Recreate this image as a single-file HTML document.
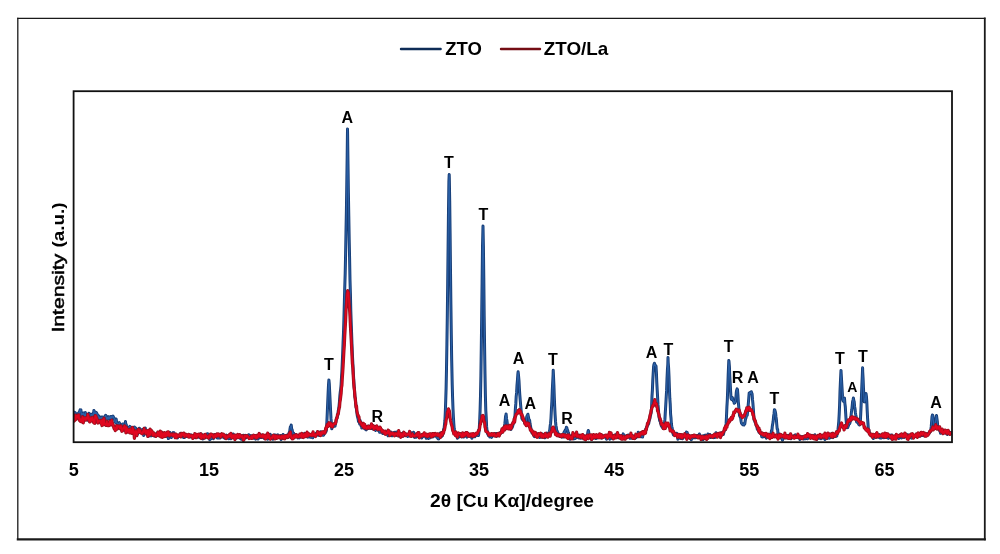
<!DOCTYPE html>
<html><head><meta charset="utf-8"><title>XRD</title>
<style>
html,body{margin:0;padding:0;background:#fff;}
body{width:1000px;height:554px;overflow:hidden;font-family:"Liberation Sans",sans-serif;}
svg{display:block;will-change:transform;filter:blur(0.4px);}
text{font-family:"Liberation Sans",sans-serif;font-weight:bold;fill:#000;}
</style></head><body>
<svg width="1000" height="554" viewBox="0 0 1000 554">
<rect x="0" y="0" width="1000" height="554" fill="#fff"/>
<!-- outer frame -->
<g stroke="#1a1a1a" fill="none" stroke-linecap="square">
<line x1="17.8" y1="18.4" x2="984.8" y2="18.4" stroke-width="1.3"/>
<line x1="17.8" y1="18.4" x2="17.8" y2="539.4" stroke-width="1.3"/>
<line x1="984.8" y1="18.4" x2="984.8" y2="539.4" stroke-width="1.8"/>
<line x1="17.8" y1="539.4" x2="984.8" y2="539.4" stroke-width="2.1"/>
</g>
<!-- data -->
<clipPath id="cp"><rect x="73.6" y="91" width="878.4" height="351.5"/></clipPath>
<g fill="none" stroke-linejoin="round" stroke-linecap="round" clip-path="url(#cp)">
<defs><polyline id="pb" points="73.6,417.0 74.0,414.7 74.4,412.2 74.8,413.2 75.2,412.7 75.6,416.6 76.0,414.6 76.4,416.0 76.8,414.0 77.2,414.8 77.7,417.2 78.1,413.5 78.5,413.4 78.9,412.5 79.3,414.9 79.7,411.2 80.1,409.9 80.5,410.2 80.9,409.9 81.3,414.2 81.7,418.6 82.1,413.5 82.5,415.8 82.9,415.1 83.3,412.9 83.7,414.5 84.1,414.2 84.5,414.7 84.9,419.1 85.4,412.6 85.8,417.1 86.2,417.6 86.6,416.6 87.0,418.9 87.4,420.1 87.8,418.1 88.2,418.7 88.6,419.0 89.0,413.3 89.4,419.1 89.8,420.8 90.2,417.7 90.6,417.9 91.0,414.3 91.4,415.7 91.8,414.5 92.2,415.5 92.6,416.7 93.1,413.4 93.5,414.7 93.9,410.4 94.3,412.8 94.7,413.3 95.1,411.9 95.5,412.5 95.9,417.1 96.3,412.5 96.7,413.2 97.1,413.9 97.5,416.5 97.9,418.6 98.3,416.2 98.7,415.8 99.1,417.3 99.5,420.2 99.9,417.6 100.3,421.6 100.8,420.0 101.2,417.0 101.6,418.3 102.0,419.3 102.4,420.4 102.8,416.9 103.2,420.3 103.6,417.6 104.0,417.0 104.4,417.6 104.8,417.1 105.2,416.2 105.6,415.3 106.0,415.6 106.4,419.0 106.8,420.0 107.2,417.6 107.6,419.0 108.1,416.8 108.5,418.0 108.9,418.9 109.3,416.9 109.7,417.0 110.1,418.5 110.5,418.2 110.9,416.4 111.3,419.0 111.7,416.9 112.1,418.0 112.5,416.2 112.9,416.1 113.3,416.7 113.7,418.1 114.1,418.0 114.5,418.9 114.9,421.8 115.3,422.3 115.8,422.8 116.2,419.1 116.6,422.2 117.0,422.8 117.4,423.6 117.8,423.3 118.2,423.8 118.6,425.2 119.0,424.4 119.4,422.6 119.8,427.0 120.2,426.7 120.6,425.1 121.0,427.0 121.4,425.2 121.8,426.9 122.2,424.5 122.6,423.9 123.0,424.0 123.5,423.9 123.9,425.5 124.3,426.4 124.7,425.7 125.1,426.2 125.5,421.5 125.9,427.1 126.3,424.6 126.7,428.7 127.1,429.7 127.5,428.4 127.9,428.1 128.3,427.6 128.7,427.6 129.1,426.9 129.5,427.0 129.9,426.4 130.3,429.6 130.7,427.0 131.2,429.1 131.6,427.5 132.0,428.7 132.4,428.6 132.8,429.8 133.2,429.7 133.6,428.8 134.0,427.2 134.4,427.0 134.8,430.7 135.2,427.8 135.6,427.9 136.0,431.1 136.4,430.7 136.8,429.9 137.2,429.5 137.6,434.2 138.0,430.6 138.4,431.2 138.9,430.6 139.3,428.3 139.7,428.4 140.1,431.4 140.5,431.6 140.9,430.8 141.3,430.5 141.7,429.8 142.1,431.3 142.5,429.5 142.9,432.5 143.3,433.3 143.7,435.5 144.1,433.3 144.5,431.9 144.9,431.9 145.3,428.0 145.7,432.2 146.1,432.6 146.6,434.1 147.0,434.0 147.4,434.7 147.8,434.3 148.2,435.2 148.6,436.1 149.0,432.5 149.4,433.2 149.8,432.2 150.2,435.8 150.6,435.8 151.0,435.9 151.4,433.5 151.8,435.2 152.2,434.7 152.6,435.4 153.0,434.4 153.4,435.3 153.8,434.1 154.3,436.1 154.7,435.5 155.1,435.9 155.5,435.4 155.9,434.3 156.3,435.8 156.7,433.6 157.1,433.8 157.5,433.7 157.9,432.4 158.3,434.3 158.7,432.5 159.1,434.6 159.5,433.9 159.9,432.1 160.3,433.4 160.7,433.4 161.1,433.0 161.6,432.4 162.0,434.0 162.4,433.4 162.8,434.6 163.2,434.0 163.6,434.8 164.0,434.0 164.4,434.3 164.8,434.8 165.2,434.2 165.6,433.7 166.0,433.4 166.4,435.2 166.8,436.4 167.2,435.3 167.6,435.3 168.0,436.6 168.4,438.6 168.8,434.6 169.3,435.6 169.7,435.6 170.1,432.5 170.5,435.4 170.9,434.9 171.3,437.6 171.7,435.6 172.1,434.5 172.5,434.8 172.9,434.7 173.3,432.6 173.7,433.0 174.1,432.8 174.5,434.2 174.9,435.5 175.3,437.4 175.7,436.6 176.1,435.8 176.5,436.8 177.0,436.9 177.4,437.9 177.8,437.2 178.2,436.1 178.6,436.5 179.0,436.2 179.4,436.5 179.8,435.9 180.2,435.1 180.6,433.4 181.0,435.1 181.4,433.6 181.8,435.5 182.2,435.6 182.6,434.8 183.0,437.0 183.4,437.4 183.8,437.2 184.2,437.5 184.7,437.3 185.1,434.5 185.5,436.5 185.9,435.5 186.3,436.1 186.7,436.5 187.1,435.3 187.5,435.5 187.9,435.6 188.3,436.2 188.7,436.7 189.1,434.9 189.5,434.7 189.9,436.8 190.3,436.0 190.7,436.9 191.1,435.0 191.5,436.6 191.9,436.4 192.4,436.7 192.8,435.8 193.2,437.1 193.6,436.5 194.0,436.7 194.4,436.8 194.8,437.3 195.2,436.0 195.6,437.6 196.0,437.0 196.4,436.7 196.8,436.7 197.2,437.0 197.6,437.0 198.0,437.1 198.4,436.4 198.8,436.9 199.2,436.5 199.6,437.6 200.1,435.7 200.5,433.7 200.9,436.9 201.3,436.0 201.7,434.5 202.1,436.1 202.5,435.9 202.9,439.0 203.3,437.0 203.7,435.3 204.1,437.2 204.5,435.6 204.9,438.1 205.3,435.9 205.7,434.7 206.1,436.9 206.5,436.5 206.9,436.4 207.3,433.8 207.8,436.0 208.2,437.7 208.6,434.2 209.0,437.5 209.4,436.6 209.8,439.8 210.2,437.7 210.6,437.9 211.0,438.8 211.4,437.7 211.8,436.1 212.2,437.3 212.6,435.9 213.0,435.0 213.4,438.7 213.8,436.5 214.2,436.1 214.6,436.7 215.0,434.5 215.5,435.0 215.9,436.2 216.3,436.2 216.7,436.7 217.1,437.9 217.5,436.2 217.9,437.2 218.3,438.0 218.7,436.5 219.1,437.7 219.5,436.2 219.9,438.1 220.3,436.4 220.7,435.4 221.1,434.3 221.5,436.4 221.9,435.4 222.3,436.9 222.8,436.4 223.2,435.3 223.6,437.0 224.0,437.5 224.4,436.7 224.8,438.3 225.2,436.8 225.6,436.6 226.0,436.3 226.4,435.1 226.8,435.7 227.2,435.9 227.6,437.9 228.0,438.2 228.4,437.2 228.8,438.8 229.2,437.7 229.6,437.7 230.0,437.8 230.5,436.9 230.9,438.7 231.3,436.0 231.7,434.9 232.1,437.4 232.5,435.9 232.9,436.6 233.3,434.0 233.7,437.4 234.1,437.3 234.5,437.4 234.9,437.1 235.3,438.6 235.7,437.2 236.1,437.8 236.5,435.8 236.9,436.5 237.3,437.7 237.7,436.5 238.2,435.5 238.6,437.6 239.0,437.2 239.4,436.4 239.8,438.1 240.2,436.5 240.6,436.0 241.0,436.0 241.4,439.3 241.8,436.1 242.2,438.1 242.6,437.3 243.0,437.3 243.4,435.3 243.8,436.0 244.2,436.7 244.6,437.9 245.0,436.3 245.4,435.4 245.9,437.8 246.3,437.5 246.7,436.6 247.1,435.7 247.5,436.7 247.9,436.3 248.3,436.7 248.7,434.8 249.1,436.6 249.5,436.0 249.9,435.4 250.3,436.8 250.7,436.4 251.1,436.0 251.5,437.0 251.9,435.7 252.3,437.0 252.7,437.8 253.1,437.4 253.6,438.1 254.0,435.6 254.4,435.5 254.8,437.3 255.2,437.5 255.6,439.1 256.0,437.4 256.4,436.0 256.8,437.8 257.2,435.9 257.6,435.6 258.0,439.1 258.4,437.1 258.8,436.9 259.2,436.5 259.6,437.7 260.0,437.0 260.4,437.3 260.8,435.1 261.3,435.1 261.7,437.5 262.1,437.3 262.5,436.6 262.9,436.4 263.3,436.8 263.7,436.0 264.1,438.2 264.5,437.3 264.9,437.0 265.3,436.2 265.7,437.6 266.1,436.8 266.5,437.4 266.9,435.9 267.3,438.1 267.7,439.2 268.1,437.2 268.5,437.2 269.0,437.8 269.4,437.5 269.8,436.8 270.2,434.3 270.6,436.8 271.0,435.4 271.4,435.6 271.8,437.2 272.2,436.6 272.6,436.6 273.0,439.3 273.4,437.1 273.8,437.4 274.2,435.1 274.6,436.1 275.0,435.1 275.4,435.7 275.8,435.2 276.2,436.2 276.7,436.6 277.1,436.0 277.5,435.3 277.9,434.8 278.3,436.4 278.7,436.1 279.1,437.2 279.5,437.4 279.9,436.2 280.3,437.1 280.7,435.5 281.1,439.6 281.5,438.9 281.9,437.3 282.3,436.4 282.7,437.3 283.1,434.4 283.5,435.5 284.0,436.9 284.4,436.4 284.8,436.0 285.2,437.6 285.6,435.7 286.0,437.0 286.4,435.8 286.8,435.4 287.2,436.3 287.6,434.8 288.0,437.5 288.4,434.6 288.8,436.6 289.2,432.5 289.6,432.6 290.0,429.0 290.4,426.8 290.8,426.4 291.1,426.2 291.2,425.0 291.7,429.1 292.1,429.6 292.5,432.0 292.9,433.6 293.3,434.7 293.7,433.3 294.1,436.8 294.5,436.4 294.9,435.8 295.3,435.3 295.7,434.5 296.1,435.3 296.5,436.6 296.9,435.9 297.3,435.2 297.7,436.0 298.1,437.9 298.5,436.4 298.9,435.9 299.4,437.9 299.8,437.0 300.2,436.6 300.6,435.7 301.0,435.0 301.4,435.5 301.8,436.3 302.2,436.5 302.6,437.0 303.0,437.3 303.4,436.6 303.8,435.6 304.2,434.4 304.6,433.3 305.0,434.2 305.4,433.6 305.8,435.0 306.2,435.1 306.6,434.6 307.1,435.6 307.5,437.1 307.9,436.9 308.3,436.2 308.7,436.8 309.1,435.4 309.5,434.3 309.9,435.4 310.3,437.2 310.7,435.4 311.1,437.1 311.5,437.1 311.9,437.3 312.3,435.1 312.7,437.8 313.1,436.3 313.5,435.8 313.9,435.7 314.3,436.0 314.8,434.6 315.2,434.4 315.6,435.8 316.0,433.8 316.4,433.2 316.8,435.3 317.2,434.8 317.6,434.9 318.0,432.0 318.4,434.4 318.8,434.1 319.2,435.5 319.6,432.6 320.0,434.5 320.4,434.2 320.8,431.8 321.2,432.4 321.6,434.4 322.0,432.9 322.5,432.8 322.9,435.2 323.3,435.3 323.7,435.0 324.1,433.0 324.5,432.8 324.9,433.1 325.3,431.2 325.7,431.0 326.1,431.6 326.5,429.1 326.9,421.3 327.3,412.3 327.7,403.0 328.1,393.5 328.5,385.0 328.9,379.9 329.3,384.0 329.7,392.3 330.2,402.9 330.6,411.0 331.0,418.9 331.4,423.2 331.8,428.8 332.2,426.5 332.6,425.7 333.0,425.8 333.4,426.2 333.8,424.7 334.2,425.9 334.6,425.1 335.0,426.2 335.4,423.9 335.8,422.4 336.2,420.2 336.6,418.6 337.0,417.7 337.5,415.8 337.9,414.8 338.3,410.4 338.7,409.2 339.1,405.3 339.5,401.1 339.9,395.3 340.3,391.7 340.7,389.3 341.1,384.6 341.5,377.3 341.9,371.0 342.3,362.1 342.7,352.7 343.1,341.8 343.5,332.5 343.9,319.7 344.3,304.9 344.7,289.2 345.2,273.0 345.6,254.1 346.0,231.6 346.4,210.7 346.8,183.6 347.2,154.7 347.5,128.9 347.6,134.4 348.0,164.6 348.4,193.2 348.8,216.5 349.2,239.9 349.6,258.5 350.0,280.1 350.4,293.4 350.8,310.7 351.2,322.3 351.6,333.4 352.0,344.6 352.4,354.5 352.9,364.0 353.3,372.8 353.7,378.6 354.1,385.7 354.5,390.4 354.9,395.8 355.3,399.3 355.7,403.0 356.1,406.8 356.5,409.6 356.9,412.6 357.3,415.9 357.7,417.5 358.1,418.8 358.5,421.5 358.9,419.9 359.3,421.5 359.7,424.0 360.1,420.6 360.6,423.3 361.0,425.7 361.4,423.4 361.8,428.1 362.2,423.2 362.6,427.2 363.0,427.6 363.4,427.7 363.8,426.1 364.2,427.4 364.6,426.6 365.0,428.9 365.4,427.9 365.8,429.4 366.2,429.9 366.6,427.6 367.0,427.8 367.4,427.6 367.8,426.2 368.3,428.5 368.7,428.0 369.1,426.1 369.5,427.7 369.9,426.9 370.3,427.4 370.7,427.9 371.1,427.3 371.5,428.5 371.9,426.4 372.3,428.0 372.7,427.5 373.1,429.0 373.5,428.2 373.9,428.9 374.3,428.1 374.7,429.7 375.1,429.6 375.5,430.4 376.0,429.5 376.4,428.9 376.8,428.1 377.2,428.9 377.6,428.4 378.0,430.1 378.4,430.5 378.8,429.1 379.2,429.5 379.6,432.2 380.0,431.7 380.4,430.5 380.8,432.1 381.2,431.1 381.6,431.4 382.0,431.3 382.4,430.8 382.8,433.6 383.2,431.6 383.7,432.2 384.1,432.6 384.5,433.1 384.9,432.5 385.3,432.6 385.7,431.4 386.1,432.8 386.5,432.6 386.9,434.1 387.3,434.6 387.7,434.1 388.1,435.8 388.5,434.2 388.9,434.5 389.3,433.3 389.7,433.0 390.1,434.0 390.5,433.8 390.9,431.9 391.4,434.9 391.8,434.9 392.2,435.8 392.6,435.1 393.0,433.2 393.4,432.9 393.8,435.0 394.2,433.7 394.6,432.4 395.0,433.8 395.4,433.6 395.8,432.5 396.2,432.0 396.6,432.9 397.0,435.4 397.4,435.0 397.8,435.2 398.2,435.7 398.7,436.1 399.1,433.5 399.5,434.8 399.9,434.0 400.3,433.4 400.7,434.1 401.1,434.0 401.5,434.7 401.9,433.7 402.3,434.4 402.7,436.3 403.1,433.6 403.5,432.6 403.9,434.2 404.3,434.9 404.7,435.1 405.1,433.9 405.5,435.7 405.9,434.2 406.4,434.2 406.8,435.6 407.2,435.6 407.6,436.5 408.0,436.2 408.4,435.6 408.8,435.5 409.2,434.8 409.6,435.7 410.0,433.5 410.4,432.9 410.8,435.3 411.2,432.8 411.6,433.5 412.0,433.8 412.4,433.8 412.8,433.9 413.2,435.8 413.6,432.3 414.1,435.9 414.5,437.4 414.9,435.3 415.3,435.5 415.7,436.5 416.1,437.2 416.5,433.9 416.9,434.9 417.3,435.3 417.7,435.9 418.1,436.0 418.5,436.7 418.9,436.1 419.3,436.0 419.7,435.3 420.1,435.6 420.5,436.5 420.9,436.1 421.3,435.3 421.8,438.0 422.2,436.1 422.6,434.5 423.0,436.6 423.4,434.7 423.8,435.9 424.2,435.1 424.6,435.8 425.0,436.3 425.4,435.9 425.8,436.2 426.2,438.3 426.6,434.5 427.0,436.8 427.4,437.0 427.8,435.9 428.2,435.8 428.6,438.4 429.0,435.7 429.5,438.1 429.9,436.8 430.3,435.7 430.7,436.4 431.1,436.5 431.5,436.9 431.9,436.0 432.3,435.5 432.7,435.4 433.1,436.9 433.5,436.0 433.9,434.3 434.3,435.1 434.7,435.7 435.1,434.6 435.5,434.8 435.9,434.6 436.3,435.6 436.7,437.1 437.2,437.5 437.6,437.0 438.0,438.7 438.4,436.0 438.8,438.9 439.2,436.4 439.6,435.9 440.0,434.9 440.4,432.9 440.8,434.9 441.2,435.3 441.6,436.5 442.0,433.3 442.4,435.7 442.8,433.3 443.2,433.7 443.6,429.2 444.0,429.3 444.4,425.3 444.9,420.7 445.3,412.5 445.7,401.3 446.1,388.4 446.5,368.7 446.9,344.6 447.3,316.5 447.7,282.8 448.1,246.5 448.5,210.4 448.9,181.7 449.2,174.5 449.3,177.7 449.7,200.7 450.1,233.7 450.5,270.6 450.9,304.8 451.3,334.8 451.7,360.5 452.2,384.1 452.6,397.8 453.0,408.8 453.4,417.0 453.8,423.5 454.2,428.8 454.6,431.9 455.0,432.8 455.4,434.1 455.8,434.0 456.2,433.8 456.6,436.3 457.0,435.7 457.4,438.3 457.8,435.6 458.2,436.6 458.6,437.3 459.0,436.3 459.4,434.8 459.9,435.6 460.3,436.5 460.7,436.5 461.1,435.6 461.5,436.9 461.9,436.7 462.3,435.8 462.7,436.0 463.1,436.2 463.5,437.0 463.9,437.1 464.3,436.4 464.7,436.1 465.1,435.5 465.5,434.0 465.9,434.7 466.3,436.0 466.7,436.1 467.1,437.1 467.6,435.7 468.0,435.9 468.4,436.0 468.8,435.9 469.2,434.4 469.6,435.3 470.0,435.8 470.4,435.5 470.8,436.8 471.2,437.2 471.6,435.6 472.0,438.2 472.4,435.7 472.8,435.7 473.2,435.6 473.6,434.9 474.0,435.4 474.4,435.4 474.8,436.8 475.3,435.9 475.7,435.5 476.1,435.0 476.5,433.5 476.9,434.5 477.3,433.9 477.7,435.5 478.1,434.4 478.5,435.5 478.9,432.6 479.3,427.8 479.7,420.7 480.1,410.1 480.5,395.6 480.9,375.7 481.3,347.3 481.7,316.1 482.1,282.2 482.5,246.4 483.0,226.1 483.4,246.0 483.8,278.6 484.2,317.1 484.6,347.7 485.0,374.1 485.4,395.7 485.8,410.5 486.2,417.0 486.6,426.4 487.0,430.3 487.4,433.1 487.8,434.3 488.2,434.5 488.6,435.7 489.0,435.2 489.4,435.0 489.8,436.9 490.2,436.6 490.7,436.3 491.1,436.0 491.5,437.4 491.9,435.7 492.3,435.3 492.7,434.6 493.1,435.8 493.5,434.4 493.9,435.5 494.3,435.7 494.7,433.4 495.1,434.6 495.5,435.6 495.9,434.9 496.3,433.5 496.7,436.3 497.1,435.0 497.5,434.1 497.9,434.3 498.4,435.0 498.8,435.5 499.2,434.9 499.6,433.9 500.0,432.9 500.4,433.5 500.8,432.6 501.2,432.9 501.6,430.8 502.0,431.8 502.4,431.0 502.8,430.2 503.2,430.5 503.6,429.3 504.0,428.5 504.4,426.8 504.8,424.0 505.2,420.3 505.6,415.9 505.9,415.4 506.1,413.9 506.5,418.5 506.9,420.5 507.3,423.6 507.7,427.7 508.1,427.3 508.5,427.1 508.9,427.0 509.3,428.2 509.7,428.6 510.1,428.7 510.5,428.5 510.9,429.4 511.3,427.2 511.7,426.1 512.1,427.5 512.5,426.7 512.9,425.2 513.4,422.3 513.8,422.9 514.2,422.3 514.6,417.8 515.0,415.6 515.4,408.4 515.8,403.9 516.2,396.4 516.6,392.9 517.0,385.3 517.4,380.6 517.8,375.0 518.1,371.8 518.2,372.4 518.6,376.4 519.0,381.0 519.4,388.7 519.8,394.9 520.2,399.8 520.6,404.6 521.1,410.4 521.5,414.5 521.9,418.5 522.3,418.7 522.7,419.8 523.1,420.1 523.5,419.3 523.9,420.8 524.3,420.9 524.7,422.9 525.1,422.7 525.5,422.7 525.9,421.4 526.3,421.4 526.7,417.0 527.1,415.7 527.5,415.0 527.9,414.2 528.3,416.3 528.8,418.8 529.2,421.5 529.6,420.1 530.0,423.6 530.4,425.5 530.8,427.8 531.2,430.1 531.6,430.8 532.0,432.9 532.4,432.5 532.8,433.0 533.2,433.3 533.6,434.4 534.0,435.3 534.4,436.6 534.8,435.8 535.2,436.3 535.6,436.1 536.0,434.5 536.5,434.1 536.9,434.0 537.3,434.9 537.7,434.0 538.1,433.9 538.5,436.1 538.9,436.2 539.3,434.4 539.7,437.6 540.1,436.2 540.5,435.8 540.9,437.0 541.3,435.9 541.7,434.9 542.1,437.2 542.5,434.0 542.9,435.1 543.3,435.9 543.7,434.5 544.2,435.7 544.6,436.1 545.0,437.8 545.4,435.0 545.8,435.3 546.2,435.5 546.6,435.0 547.0,433.1 547.4,434.2 547.8,434.1 548.2,434.1 548.6,433.4 549.0,433.1 549.4,431.5 549.8,429.7 550.2,425.7 550.6,423.2 551.0,418.0 551.4,409.8 551.9,401.0 552.3,390.2 552.7,382.4 553.1,374.5 553.2,370.2 553.5,376.1 553.9,385.0 554.3,397.1 554.7,406.7 555.1,414.9 555.5,421.2 555.9,425.5 556.3,427.3 556.7,430.8 557.1,430.8 557.5,432.3 557.9,432.8 558.3,434.2 558.7,434.0 559.1,435.8 559.6,434.7 560.0,436.6 560.4,435.8 560.8,436.2 561.2,435.8 561.6,436.9 562.0,434.7 562.4,437.1 562.8,434.8 563.2,437.0 563.6,433.1 564.0,432.6 564.4,431.6 564.8,434.2 565.2,430.1 565.6,430.8 566.0,429.7 566.4,427.2 566.9,428.1 567.3,430.2 567.7,430.3 568.1,432.5 568.5,432.9 568.9,434.9 569.3,435.8 569.7,437.4 570.1,439.3 570.5,437.4 570.9,437.1 571.3,436.2 571.7,435.7 572.1,437.9 572.5,435.8 572.9,435.8 573.3,436.9 573.7,436.9 574.1,438.9 574.6,435.2 575.0,438.3 575.4,438.4 575.8,435.8 576.2,436.0 576.6,436.6 577.0,437.2 577.4,434.8 577.8,435.2 578.2,437.6 578.6,437.9 579.0,437.0 579.4,435.1 579.8,437.9 580.2,436.5 580.6,438.2 581.0,436.3 581.4,436.4 581.8,436.5 582.3,438.0 582.7,437.9 583.1,435.0 583.5,435.7 583.9,438.5 584.3,436.7 584.7,436.5 585.1,437.3 585.5,437.6 585.9,437.4 586.3,436.8 586.7,435.9 587.1,435.4 587.5,434.7 587.9,431.9 588.3,430.5 588.7,432.0 589.1,435.1 589.5,435.5 590.0,436.2 590.4,437.5 590.8,438.0 591.2,439.1 591.6,438.6 592.0,439.1 592.4,438.2 592.8,436.2 593.2,435.9 593.6,436.8 594.0,437.2 594.4,437.1 594.8,436.7 595.2,436.2 595.6,438.5 596.0,438.5 596.4,438.4 596.8,436.0 597.2,437.7 597.7,436.3 598.1,437.7 598.5,437.2 598.9,436.1 599.3,436.2 599.7,434.8 600.1,435.7 600.5,435.3 600.9,437.6 601.3,437.0 601.7,438.1 602.1,437.2 602.5,436.4 602.9,437.2 603.3,436.2 603.7,436.6 604.1,436.6 604.5,435.6 604.9,436.6 605.4,437.4 605.8,436.9 606.2,438.3 606.6,439.2 607.0,437.2 607.4,437.0 607.8,435.2 608.2,437.0 608.6,437.0 609.0,435.6 609.4,438.3 609.8,439.1 610.2,437.4 610.6,437.3 611.0,436.3 611.4,437.5 611.8,435.3 612.2,436.9 612.6,438.8 613.1,437.4 613.5,437.7 613.9,436.7 614.3,435.5 614.7,436.2 615.1,436.2 615.5,434.7 615.9,436.2 616.3,436.5 616.7,436.2 617.1,433.6 617.5,434.5 617.9,434.2 618.3,437.7 618.7,437.3 619.1,437.6 619.5,436.3 619.9,435.9 620.3,436.4 620.8,437.3 621.2,436.5 621.6,436.8 622.0,437.0 622.4,436.8 622.8,435.2 623.2,433.9 623.6,435.7 624.0,436.6 624.4,436.2 624.8,435.8 625.2,436.1 625.6,437.8 626.0,436.4 626.4,436.3 626.8,435.6 627.2,435.6 627.6,435.6 628.1,434.9 628.5,434.9 628.9,436.1 629.3,437.0 629.7,437.4 630.1,438.3 630.5,436.8 630.9,436.5 631.3,436.4 631.7,436.4 632.1,438.3 632.5,437.1 632.9,436.9 633.3,435.9 633.7,436.0 634.1,436.2 634.5,436.8 634.9,437.2 635.3,438.1 635.8,437.7 636.2,437.6 636.6,436.2 637.0,436.5 637.4,435.4 637.8,436.1 638.2,432.2 638.6,433.9 639.0,436.3 639.4,433.7 639.8,433.4 640.2,435.3 640.6,436.7 641.0,435.4 641.4,436.3 641.8,435.5 642.2,434.2 642.6,437.1 643.0,433.6 643.5,432.3 643.9,431.8 644.3,432.3 644.7,432.0 645.1,431.9 645.5,430.8 645.9,428.7 646.3,429.4 646.7,427.0 647.1,426.6 647.5,425.0 647.9,425.1 648.3,423.8 648.7,423.6 649.1,420.4 649.5,419.9 649.9,418.4 650.3,415.9 650.7,414.8 651.2,412.3 651.6,407.2 652.0,396.1 652.4,390.1 652.8,380.1 653.2,373.3 653.6,366.5 654.0,364.2 654.4,364.3 654.5,363.2 654.8,365.5 655.2,365.0 655.6,366.4 656.0,366.0 656.4,372.5 656.8,382.6 657.2,390.0 657.6,397.1 658.0,404.9 658.4,409.4 658.9,416.0 659.3,418.1 659.7,420.8 660.1,420.5 660.5,423.1 660.9,423.9 661.3,425.8 661.7,426.2 662.1,427.0 662.5,427.4 662.9,428.2 663.3,425.5 663.7,428.0 664.1,426.0 664.5,423.5 664.9,419.4 665.3,412.4 665.7,406.2 666.1,398.9 666.6,390.4 667.0,379.1 667.4,370.2 667.8,364.6 668.0,357.6 668.2,362.6 668.6,367.9 669.0,376.2 669.4,388.0 669.8,398.2 670.2,403.8 670.6,414.1 671.0,418.0 671.4,424.1 671.8,426.5 672.2,428.2 672.6,431.7 673.0,433.3 673.4,434.9 673.8,434.3 674.3,433.5 674.7,433.1 675.1,433.2 675.5,434.3 675.9,434.2 676.3,435.3 676.7,433.2 677.1,436.3 677.5,436.1 677.9,439.2 678.3,437.8 678.7,437.4 679.1,437.9 679.5,436.4 679.9,437.2 680.3,435.5 680.7,438.6 681.1,438.3 681.6,436.6 682.0,437.2 682.4,438.8 682.8,437.9 683.2,437.5 683.6,436.0 684.0,435.8 684.4,436.0 684.8,436.9 685.2,435.0 685.6,434.4 686.0,435.1 686.4,432.1 686.8,432.6 687.2,432.5 687.6,434.7 688.0,437.5 688.4,437.2 688.8,437.6 689.3,435.6 689.7,436.1 690.1,438.2 690.5,438.3 690.9,438.4 691.3,439.8 691.7,437.7 692.1,437.2 692.5,438.1 692.9,437.0 693.3,437.2 693.7,436.3 694.1,437.7 694.5,436.1 694.9,437.4 695.3,435.7 695.7,437.8 696.1,436.2 696.5,437.5 697.0,435.6 697.4,436.2 697.8,437.2 698.2,435.2 698.6,436.0 699.0,435.2 699.4,434.0 699.8,436.8 700.2,436.6 700.6,435.9 701.0,437.6 701.4,436.3 701.8,436.5 702.2,437.5 702.6,436.4 703.0,439.5 703.4,435.7 703.8,437.8 704.2,438.2 704.7,435.5 705.1,435.2 705.5,437.6 705.9,436.6 706.3,437.1 706.7,437.6 707.1,436.6 707.5,435.6 707.9,434.0 708.3,436.8 708.7,435.9 709.1,436.4 709.5,435.7 709.9,434.5 710.3,437.4 710.7,436.9 711.1,437.4 711.5,436.1 711.9,436.5 712.4,437.1 712.8,437.3 713.2,436.1 713.6,437.6 714.0,437.5 714.4,436.7 714.8,435.7 715.2,437.4 715.6,435.6 716.0,432.7 716.4,434.7 716.8,435.0 717.2,435.5 717.6,434.7 718.0,434.7 718.4,434.4 718.8,435.3 719.2,434.8 719.6,434.3 720.1,434.0 720.5,435.3 720.9,434.3 721.3,432.7 721.7,435.2 722.1,433.6 722.5,433.9 722.9,433.8 723.3,434.5 723.7,433.0 724.1,430.9 724.5,430.5 724.9,428.5 725.3,429.9 725.7,426.6 726.1,423.9 726.5,416.4 726.9,406.9 727.3,400.1 727.8,386.8 728.2,374.8 728.6,365.2 728.8,360.5 729.0,361.6 729.4,366.3 729.8,376.9 730.2,383.6 730.6,391.0 731.0,397.8 731.4,399.5 731.8,399.5 732.2,397.4 732.6,398.3 733.0,400.3 733.4,401.3 733.8,401.2 734.2,403.3 734.6,402.5 735.0,402.7 735.5,400.8 735.9,397.8 736.3,392.3 736.7,390.1 737.1,388.9 737.5,389.7 737.9,394.6 738.3,401.8 738.7,406.0 739.1,411.6 739.5,415.4 739.9,416.6 740.3,416.1 740.7,418.2 741.1,421.3 741.5,423.3 741.9,423.6 742.3,424.1 742.8,424.7 743.2,424.4 743.6,424.7 744.0,425.0 744.4,423.2 744.8,423.9 745.2,420.7 745.6,418.7 746.0,417.9 746.4,415.7 746.8,414.6 747.2,415.3 747.6,411.7 748.0,407.2 748.4,402.7 748.8,397.8 749.2,392.9 749.6,393.8 750.0,392.6 750.5,392.6 750.9,393.0 751.3,391.7 751.7,393.0 752.1,393.8 752.5,399.4 752.9,403.3 753.3,408.6 753.7,414.6 754.1,419.9 754.5,420.2 754.9,422.0 755.3,421.8 755.7,423.2 756.1,425.3 756.5,425.9 756.9,426.7 757.3,429.3 757.7,428.4 758.2,427.8 758.6,430.4 759.0,432.3 759.4,431.3 759.8,432.9 760.2,432.6 760.6,432.7 761.0,433.3 761.4,434.4 761.8,436.7 762.2,434.3 762.6,437.0 763.0,434.9 763.4,435.8 763.8,436.6 764.2,436.0 764.6,435.7 765.0,433.9 765.4,435.5 765.9,434.4 766.3,438.2 766.7,435.9 767.1,435.5 767.5,434.7 767.9,435.3 768.3,434.4 768.7,436.4 769.1,435.3 769.5,436.3 769.9,434.5 770.3,434.7 770.7,435.1 771.1,432.9 771.5,430.4 771.9,430.8 772.3,426.2 772.7,423.9 773.1,421.8 773.6,416.3 774.0,413.9 774.4,409.8 774.8,409.9 775.2,411.3 775.6,413.2 776.0,416.9 776.4,419.8 776.8,425.0 777.2,429.1 777.6,429.2 778.0,433.9 778.4,433.6 778.8,434.6 779.2,433.8 779.6,437.2 780.0,435.6 780.4,436.1 780.8,436.1 781.3,438.2 781.7,435.6 782.1,437.6 782.5,440.2 782.9,437.4 783.3,437.4 783.7,438.3 784.1,437.1 784.5,437.3 784.9,437.8 785.3,437.7 785.7,437.8 786.1,436.5 786.5,437.2 786.9,436.9 787.3,438.0 787.7,437.4 788.1,437.1 788.5,435.4 789.0,438.0 789.4,438.1 789.8,436.8 790.2,435.6 790.6,436.5 791.0,438.7 791.4,436.5 791.8,437.1 792.2,437.3 792.6,437.4 793.0,436.7 793.4,436.6 793.8,435.9 794.2,437.8 794.6,437.5 795.0,435.9 795.4,434.8 795.8,435.5 796.2,436.6 796.7,435.9 797.1,437.4 797.5,436.7 797.9,436.7 798.3,437.7 798.7,436.9 799.1,436.5 799.5,437.0 799.9,439.4 800.3,436.2 800.7,437.6 801.1,438.4 801.5,437.8 801.9,437.0 802.3,436.7 802.7,437.9 803.1,438.3 803.5,438.9 804.0,438.0 804.4,438.6 804.8,437.5 805.2,438.8 805.6,437.3 806.0,438.2 806.4,438.4 806.8,438.4 807.2,436.7 807.6,438.8 808.0,436.9 808.4,436.7 808.8,437.2 809.2,435.4 809.6,437.1 810.0,437.0 810.4,436.3 810.8,436.9 811.2,436.3 811.7,436.5 812.1,435.4 812.5,437.0 812.9,436.3 813.3,436.5 813.7,436.4 814.1,436.7 814.5,434.9 814.9,434.8 815.3,436.1 815.7,437.5 816.1,438.0 816.5,438.8 816.9,439.3 817.3,438.3 817.7,437.8 818.1,436.6 818.5,436.6 818.9,437.1 819.4,438.3 819.8,438.2 820.2,438.1 820.6,437.8 821.0,438.6 821.4,438.0 821.8,437.9 822.2,437.9 822.6,436.9 823.0,436.7 823.4,438.0 823.8,438.1 824.2,437.3 824.6,437.1 825.0,439.6 825.4,436.8 825.8,436.6 826.2,436.9 826.6,435.6 827.1,436.7 827.5,438.4 827.9,438.1 828.3,437.7 828.7,437.8 829.1,437.0 829.5,438.1 829.9,436.6 830.3,436.7 830.7,437.1 831.1,437.4 831.5,436.3 831.9,436.7 832.3,433.3 832.7,436.3 833.1,437.6 833.5,436.5 833.9,434.6 834.3,435.0 834.8,435.8 835.2,434.6 835.6,436.4 836.0,435.3 836.4,436.2 836.8,436.1 837.2,431.8 837.6,432.2 838.0,429.5 838.4,425.7 838.8,421.3 839.2,414.1 839.6,405.3 840.0,391.6 840.4,382.3 840.8,374.0 841.0,370.4 841.2,373.8 841.6,380.5 842.0,387.6 842.5,396.4 842.9,400.2 843.3,401.2 843.7,401.3 844.1,398.5 844.5,398.2 844.9,403.6 845.3,406.8 845.7,413.5 846.1,419.8 846.5,424.0 846.9,427.8 847.3,426.0 847.7,427.5 848.1,426.2 848.5,425.5 848.9,423.3 849.3,423.9 849.7,423.7 850.2,421.8 850.6,419.4 851.0,416.4 851.4,412.2 851.8,409.8 852.2,406.0 852.6,401.6 853.0,400.1 853.4,398.0 853.8,400.6 854.2,401.6 854.6,406.4 855.0,408.7 855.4,412.7 855.8,415.1 856.2,417.1 856.6,422.0 857.0,421.1 857.5,422.6 857.9,422.4 858.3,422.9 858.7,424.5 859.1,423.6 859.5,425.0 859.9,422.0 860.3,422.0 860.7,414.6 861.1,405.6 861.5,395.0 861.9,384.8 862.3,375.9 862.6,367.7 862.7,371.6 863.1,378.5 863.5,388.8 863.9,395.7 864.3,401.8 864.7,401.9 865.2,400.2 865.6,397.4 866.0,393.5 866.4,396.2 866.8,401.5 867.2,410.8 867.6,418.5 868.0,423.8 868.4,430.3 868.8,429.9 869.2,432.0 869.6,433.1 870.0,434.4 870.4,435.0 870.8,434.9 871.2,435.1 871.6,436.3 872.0,435.0 872.4,434.7 872.9,435.5 873.3,438.5 873.7,434.4 874.1,435.9 874.5,437.1 874.9,436.0 875.3,435.7 875.7,436.6 876.1,437.2 876.5,437.3 876.9,435.4 877.3,435.9 877.7,435.3 878.1,436.5 878.5,437.1 878.9,435.5 879.3,434.6 879.7,436.7 880.1,438.0 880.6,436.8 881.0,436.1 881.4,438.1 881.8,435.0 882.2,436.5 882.6,435.3 883.0,436.4 883.4,436.6 883.8,437.8 884.2,435.7 884.6,436.4 885.0,435.6 885.4,437.6 885.8,436.3 886.2,437.1 886.6,435.7 887.0,436.5 887.4,437.8 887.8,437.5 888.3,438.3 888.7,437.9 889.1,436.7 889.5,435.7 889.9,437.2 890.3,436.9 890.7,438.1 891.1,435.0 891.5,434.9 891.9,435.0 892.3,435.7 892.7,436.5 893.1,436.6 893.5,436.4 893.9,436.4 894.3,437.7 894.7,437.4 895.1,437.6 895.5,437.4 896.0,435.1 896.4,436.0 896.8,437.6 897.2,436.1 897.6,436.2 898.0,436.5 898.4,437.0 898.8,438.5 899.2,437.5 899.6,437.1 900.0,435.1 900.4,437.1 900.8,436.1 901.2,435.8 901.6,438.0 902.0,437.1 902.4,434.6 902.8,436.8 903.2,437.0 903.7,435.7 904.1,437.5 904.5,435.3 904.9,435.3 905.3,434.4 905.7,434.8 906.1,436.2 906.5,434.2 906.9,434.6 907.3,434.9 907.7,435.6 908.1,435.2 908.5,436.7 908.9,434.9 909.3,434.9 909.7,436.0 910.1,436.8 910.5,435.0 910.9,436.7 911.4,438.1 911.8,435.5 912.2,436.1 912.6,437.8 913.0,435.8 913.4,435.7 913.8,435.5 914.2,437.0 914.6,436.5 915.0,436.3 915.4,435.7 915.8,436.4 916.2,435.8 916.6,434.0 917.0,435.2 917.4,435.4 917.8,436.5 918.2,435.8 918.7,435.8 919.1,435.4 919.5,434.5 919.9,436.2 920.3,435.4 920.7,435.9 921.1,434.6 921.5,434.5 921.9,434.2 922.3,433.8 922.7,435.6 923.1,434.7 923.5,435.7 923.9,433.7 924.3,435.0 924.7,433.2 925.1,434.1 925.5,434.1 925.9,435.4 926.4,434.8 926.8,434.3 927.2,434.5 927.6,433.8 928.0,433.7 928.4,433.8 928.8,433.0 929.2,433.2 929.6,432.5 930.0,431.5 930.4,431.5 930.8,430.0 931.2,426.9 931.6,422.1 932.0,416.8 932.4,415.0 932.8,415.4 933.2,419.3 933.6,422.4 934.1,425.3 934.5,427.9 934.9,425.4 935.3,422.7 935.7,420.6 936.1,417.6 936.5,415.5 936.9,418.4 937.3,421.2 937.7,426.3 938.1,428.9 938.5,429.3 938.9,429.3 939.3,430.3 939.7,430.7 940.1,431.3 940.5,433.3 940.9,432.6 941.3,431.1 941.8,432.0 942.2,432.0 942.6,432.0 943.0,433.6 943.4,433.3 943.8,432.3 944.2,432.4 944.6,431.6 945.0,430.6 945.4,430.6 945.8,431.3 946.2,433.3 946.6,431.7 947.0,434.2 947.4,434.4 947.8,432.7 948.2,433.0 948.6,431.9 949.0,432.2 949.5,432.8 949.9,432.4 950.3,433.1 950.7,433.5 951.1,432.6 951.5,432.6"/><polyline id="pr" points="73.6,421.4 74.0,418.1 74.4,420.8 74.8,418.6 75.2,415.1 75.6,419.8 76.0,419.1 76.4,415.8 76.8,415.9 77.2,417.2 77.7,415.2 78.1,418.2 78.5,418.1 78.9,414.9 79.3,420.4 79.7,419.9 80.1,419.0 80.5,421.5 80.9,419.0 81.3,420.2 81.7,421.8 82.1,420.5 82.5,416.7 82.9,418.9 83.3,422.9 83.7,419.2 84.1,417.7 84.5,418.4 84.9,419.3 85.4,418.1 85.8,420.1 86.2,417.5 86.6,418.8 87.0,418.8 87.4,419.0 87.8,414.3 88.2,417.9 88.6,416.3 89.0,420.7 89.4,421.4 89.8,421.9 90.2,420.1 90.6,418.0 91.0,421.1 91.4,419.3 91.8,420.3 92.2,417.3 92.6,417.6 93.1,420.5 93.5,422.5 93.9,419.5 94.3,423.2 94.7,423.3 95.1,415.5 95.5,418.2 95.9,415.8 96.3,417.6 96.7,417.7 97.1,419.2 97.5,421.8 97.9,423.0 98.3,421.4 98.7,421.0 99.1,420.8 99.5,420.7 99.9,421.5 100.3,421.3 100.8,423.2 101.2,420.4 101.6,424.2 102.0,425.5 102.4,423.8 102.8,419.9 103.2,425.0 103.6,423.0 104.0,418.2 104.4,422.7 104.8,424.4 105.2,423.9 105.6,424.9 106.0,425.3 106.4,424.7 106.8,421.2 107.2,423.3 107.6,425.6 108.1,425.6 108.5,423.5 108.9,424.0 109.3,425.5 109.7,421.5 110.1,421.3 110.5,422.7 110.9,424.6 111.3,423.4 111.7,420.0 112.1,424.7 112.5,423.0 112.9,425.8 113.3,425.0 113.7,427.2 114.1,428.5 114.5,427.4 114.9,429.8 115.3,430.6 115.8,427.6 116.2,429.4 116.6,425.6 117.0,429.1 117.4,428.0 117.8,426.1 118.2,426.8 118.6,426.5 119.0,425.9 119.4,426.7 119.8,428.6 120.2,426.6 120.6,427.4 121.0,425.7 121.4,429.2 121.8,431.3 122.2,431.1 122.6,430.8 123.0,428.0 123.5,427.4 123.9,428.5 124.3,425.9 124.7,425.9 125.1,430.3 125.5,427.3 125.9,432.9 126.3,427.0 126.7,430.2 127.1,428.6 127.5,431.1 127.9,429.3 128.3,432.2 128.7,431.4 129.1,429.7 129.5,431.3 129.9,432.9 130.3,429.1 130.7,432.1 131.2,431.4 131.6,430.3 132.0,433.5 132.4,427.3 132.8,430.8 133.2,428.8 133.6,432.8 134.0,432.9 134.4,438.5 134.8,431.2 135.2,434.0 135.6,432.4 136.0,430.8 136.4,432.7 136.8,435.7 137.2,432.2 137.6,433.1 138.0,432.5 138.4,429.2 138.9,429.4 139.3,432.4 139.7,432.5 140.1,430.2 140.5,431.3 140.9,432.6 141.3,432.7 141.7,433.7 142.1,433.7 142.5,433.7 142.9,431.0 143.3,431.0 143.7,432.2 144.1,428.4 144.5,431.7 144.9,430.7 145.3,430.4 145.7,433.7 146.1,431.3 146.6,430.7 147.0,431.1 147.4,432.8 147.8,436.5 148.2,430.3 148.6,434.3 149.0,433.7 149.4,435.5 149.8,433.3 150.2,429.2 150.6,434.4 151.0,431.0 151.4,432.4 151.8,430.9 152.2,431.9 152.6,432.9 153.0,435.5 153.4,435.3 153.8,432.9 154.3,435.1 154.7,433.8 155.1,434.2 155.5,434.4 155.9,436.5 156.3,434.3 156.7,435.0 157.1,434.7 157.5,434.3 157.9,432.0 158.3,435.6 158.7,432.5 159.1,434.6 159.5,434.7 159.9,436.0 160.3,431.2 160.7,437.0 161.1,433.8 161.6,432.0 162.0,434.5 162.4,437.5 162.8,435.7 163.2,433.8 163.6,434.8 164.0,436.7 164.4,432.6 164.8,433.5 165.2,433.2 165.6,436.3 166.0,433.6 166.4,435.6 166.8,432.8 167.2,432.2 167.6,435.2 168.0,434.3 168.4,431.9 168.8,435.0 169.3,435.9 169.7,433.8 170.1,435.1 170.5,434.7 170.9,434.5 171.3,434.2 171.7,434.4 172.1,435.2 172.5,434.5 172.9,435.7 173.3,434.0 173.7,435.9 174.1,435.3 174.5,434.2 174.9,436.4 175.3,437.7 175.7,437.1 176.1,434.0 176.5,437.7 177.0,436.1 177.4,435.5 177.8,435.1 178.2,435.7 178.6,436.4 179.0,436.2 179.4,435.3 179.8,434.2 180.2,434.9 180.6,436.2 181.0,436.9 181.4,433.3 181.8,434.8 182.2,433.8 182.6,433.6 183.0,435.0 183.4,435.3 183.8,433.1 184.2,434.1 184.7,436.7 185.1,435.6 185.5,435.4 185.9,434.2 186.3,434.6 186.7,435.9 187.1,435.0 187.5,435.0 187.9,436.0 188.3,436.9 188.7,434.3 189.1,437.1 189.5,436.7 189.9,435.1 190.3,435.9 190.7,435.7 191.1,436.2 191.5,436.4 191.9,435.4 192.4,435.5 192.8,438.5 193.2,437.2 193.6,437.6 194.0,435.9 194.4,436.8 194.8,433.7 195.2,436.4 195.6,434.3 196.0,436.9 196.4,437.7 196.8,434.3 197.2,436.3 197.6,434.7 198.0,434.5 198.4,435.2 198.8,434.2 199.2,434.8 199.6,436.9 200.1,437.1 200.5,434.9 200.9,433.8 201.3,438.5 201.7,437.6 202.1,436.6 202.5,435.3 202.9,436.2 203.3,437.3 203.7,435.1 204.1,438.1 204.5,436.5 204.9,436.8 205.3,434.4 205.7,435.2 206.1,435.4 206.5,437.2 206.9,436.4 207.3,436.5 207.8,437.0 208.2,437.3 208.6,438.2 209.0,435.9 209.4,435.1 209.8,435.9 210.2,437.1 210.6,434.2 211.0,434.9 211.4,434.1 211.8,435.1 212.2,435.3 212.6,434.7 213.0,435.7 213.4,436.9 213.8,437.6 214.2,436.7 214.6,435.8 215.0,434.7 215.5,435.2 215.9,436.7 216.3,434.9 216.7,436.3 217.1,433.9 217.5,435.6 217.9,434.7 218.3,434.0 218.7,436.0 219.1,434.3 219.5,434.8 219.9,435.3 220.3,434.7 220.7,437.2 221.1,435.2 221.5,435.9 221.9,433.7 222.3,435.0 222.8,434.8 223.2,434.7 223.6,434.3 224.0,435.7 224.4,437.1 224.8,435.5 225.2,436.1 225.6,435.6 226.0,438.6 226.4,438.0 226.8,437.1 227.2,437.3 227.6,436.0 228.0,436.7 228.4,436.9 228.8,436.7 229.2,434.9 229.6,434.5 230.0,436.4 230.5,435.8 230.9,433.3 231.3,436.3 231.7,437.9 232.1,435.6 232.5,437.2 232.9,435.3 233.3,437.7 233.7,435.5 234.1,435.1 234.5,436.6 234.9,439.6 235.3,436.0 235.7,435.3 236.1,437.1 236.5,436.3 236.9,437.8 237.3,435.3 237.7,434.5 238.2,436.5 238.6,437.4 239.0,437.1 239.4,437.3 239.8,434.7 240.2,435.2 240.6,436.2 241.0,437.0 241.4,437.0 241.8,436.1 242.2,435.8 242.6,437.8 243.0,438.7 243.4,440.5 243.8,437.6 244.2,439.2 244.6,435.7 245.0,436.3 245.4,436.1 245.9,436.7 246.3,435.6 246.7,436.2 247.1,436.9 247.5,435.9 247.9,436.5 248.3,436.8 248.7,437.4 249.1,438.5 249.5,437.9 249.9,438.1 250.3,437.6 250.7,437.4 251.1,438.3 251.5,436.1 251.9,437.8 252.3,438.3 252.7,437.7 253.1,436.3 253.6,435.2 254.0,436.0 254.4,436.4 254.8,437.2 255.2,435.6 255.6,435.6 256.0,438.1 256.4,436.2 256.8,437.9 257.2,437.8 257.6,435.2 258.0,436.9 258.4,435.9 258.8,434.9 259.2,433.5 259.6,434.0 260.0,436.5 260.4,435.4 260.8,436.8 261.3,435.4 261.7,436.8 262.1,436.9 262.5,435.2 262.9,434.8 263.3,437.1 263.7,436.3 264.1,435.3 264.5,436.3 264.9,437.3 265.3,439.0 265.7,435.2 266.1,436.7 266.5,438.3 266.9,435.9 267.3,437.4 267.7,433.1 268.1,437.5 268.5,436.4 269.0,434.7 269.4,438.1 269.8,438.6 270.2,439.2 270.6,438.9 271.0,437.7 271.4,437.2 271.8,437.4 272.2,437.7 272.6,438.0 273.0,435.6 273.4,435.2 273.8,436.2 274.2,435.6 274.6,437.7 275.0,438.9 275.4,435.9 275.8,436.4 276.2,435.8 276.7,436.6 277.1,438.3 277.5,436.0 277.9,436.4 278.3,436.9 278.7,437.5 279.1,436.0 279.5,436.2 279.9,437.5 280.3,437.2 280.7,437.7 281.1,438.4 281.5,436.1 281.9,437.1 282.3,436.1 282.7,437.6 283.1,438.0 283.5,436.0 284.0,438.6 284.4,435.8 284.8,438.8 285.2,436.9 285.6,435.6 286.0,435.6 286.4,436.5 286.8,436.8 287.2,435.9 287.6,437.5 288.0,435.4 288.4,437.0 288.8,435.9 289.2,433.6 289.6,435.7 290.0,433.6 290.4,432.0 290.8,435.3 291.1,436.1 291.2,437.6 291.7,436.1 292.1,438.8 292.5,438.3 292.9,437.8 293.3,438.5 293.7,437.5 294.1,435.4 294.5,437.0 294.9,437.2 295.3,435.8 295.7,435.5 296.1,434.7 296.5,437.0 296.9,437.0 297.3,435.2 297.7,436.6 298.1,437.2 298.5,436.4 298.9,437.0 299.4,436.7 299.8,434.2 300.2,435.1 300.6,435.6 301.0,436.5 301.4,437.1 301.8,433.3 302.2,435.6 302.6,436.9 303.0,437.1 303.4,437.6 303.8,434.4 304.2,435.3 304.6,434.3 305.0,436.7 305.4,433.7 305.8,436.4 306.2,436.1 306.6,435.7 307.1,432.2 307.5,434.5 307.9,436.1 308.3,433.3 308.7,434.0 309.1,434.2 309.5,435.0 309.9,434.7 310.3,434.9 310.7,434.4 311.1,435.5 311.5,435.3 311.9,435.5 312.3,433.5 312.7,435.5 313.1,431.9 313.5,435.1 313.9,433.8 314.3,435.6 314.8,434.3 315.2,435.1 315.6,436.5 316.0,434.2 316.4,434.5 316.8,434.0 317.2,434.3 317.6,431.6 318.0,433.6 318.4,434.0 318.8,433.4 319.2,434.1 319.6,432.3 320.0,435.3 320.4,434.0 320.8,435.5 321.2,432.5 321.6,432.3 322.0,433.8 322.5,431.8 322.9,433.3 323.3,432.0 323.7,432.1 324.1,432.5 324.5,431.5 324.9,433.2 325.3,431.2 325.7,428.2 326.1,429.8 326.5,426.4 326.9,427.3 327.3,424.5 327.7,424.3 328.1,426.4 328.5,423.8 328.9,422.7 329.3,422.9 329.7,423.6 330.2,425.4 330.6,423.1 331.0,424.1 331.4,426.7 331.8,424.1 332.2,425.6 332.6,426.9 333.0,425.4 333.4,424.6 333.8,424.2 334.2,423.6 334.6,423.5 335.0,423.8 335.4,423.7 335.8,422.3 336.2,419.4 336.6,418.1 337.0,418.4 337.5,414.5 337.9,414.6 338.3,413.4 338.7,410.7 339.1,408.2 339.5,407.3 339.9,402.1 340.3,400.0 340.7,396.5 341.1,393.6 341.5,387.5 341.9,385.5 342.3,377.9 342.7,372.4 343.1,365.9 343.5,358.7 343.9,351.1 344.3,345.3 344.7,336.1 345.2,327.5 345.6,320.6 346.0,310.4 346.4,305.5 346.8,298.7 347.2,293.0 347.5,293.2 347.6,290.7 348.0,292.5 348.4,292.4 348.8,297.9 349.2,304.0 349.6,309.7 350.0,316.2 350.4,325.3 350.8,332.6 351.2,339.5 351.6,347.2 352.0,355.8 352.4,363.6 352.9,368.3 353.3,376.3 353.7,382.8 354.1,387.8 354.5,390.6 354.9,396.9 355.3,398.5 355.7,403.5 356.1,407.4 356.5,406.1 356.9,411.2 357.3,413.0 357.7,414.9 358.1,415.0 358.5,416.9 358.9,416.7 359.3,419.8 359.7,422.0 360.1,422.0 360.6,422.2 361.0,423.2 361.4,424.7 361.8,424.8 362.2,425.1 362.6,426.4 363.0,425.2 363.4,423.4 363.8,427.6 364.2,428.1 364.6,424.4 365.0,425.5 365.4,427.1 365.8,427.8 366.2,427.8 366.6,428.7 367.0,427.0 367.4,427.7 367.8,427.2 368.3,426.1 368.7,428.2 369.1,427.5 369.5,427.5 369.9,426.9 370.3,428.4 370.7,425.8 371.1,427.5 371.5,423.9 371.9,425.3 372.3,427.5 372.7,426.4 373.1,427.5 373.5,425.7 373.9,429.4 374.3,428.0 374.7,427.0 375.1,427.6 375.5,426.9 376.0,428.4 376.4,427.6 376.8,425.9 377.2,427.2 377.6,429.6 378.0,428.7 378.4,427.8 378.8,429.1 379.2,428.5 379.6,429.7 380.0,427.2 380.4,427.7 380.8,429.4 381.2,429.1 381.6,429.7 382.0,431.9 382.4,430.2 382.8,431.1 383.2,431.2 383.7,431.4 384.1,433.0 384.5,431.3 384.9,431.1 385.3,434.3 385.7,432.8 386.1,434.0 386.5,432.8 386.9,432.5 387.3,433.1 387.7,432.7 388.1,430.2 388.5,433.2 388.9,430.7 389.3,432.4 389.7,435.7 390.1,432.8 390.5,434.8 390.9,433.0 391.4,434.0 391.8,433.1 392.2,434.1 392.6,433.1 393.0,433.3 393.4,434.7 393.8,433.3 394.2,434.4 394.6,435.8 395.0,434.2 395.4,434.3 395.8,433.3 396.2,434.3 396.6,433.9 397.0,434.3 397.4,433.6 397.8,435.6 398.2,432.9 398.7,430.6 399.1,433.8 399.5,434.2 399.9,435.2 400.3,433.4 400.7,437.4 401.1,435.8 401.5,435.7 401.9,433.9 402.3,435.9 402.7,435.1 403.1,436.2 403.5,433.7 403.9,432.2 404.3,434.1 404.7,433.2 405.1,434.4 405.5,433.6 405.9,435.4 406.4,435.1 406.8,434.9 407.2,434.7 407.6,434.2 408.0,434.5 408.4,433.8 408.8,434.8 409.2,433.8 409.6,431.4 410.0,434.3 410.4,436.3 410.8,435.2 411.2,436.3 411.6,436.3 412.0,435.0 412.4,433.8 412.8,435.9 413.2,436.0 413.6,435.6 414.1,435.9 414.5,436.2 414.9,435.6 415.3,435.8 415.7,435.1 416.1,435.4 416.5,434.0 416.9,434.5 417.3,435.8 417.7,435.2 418.1,432.6 418.5,435.3 418.9,432.7 419.3,438.0 419.7,436.4 420.1,436.7 420.5,435.6 420.9,435.1 421.3,435.9 421.8,436.2 422.2,434.6 422.6,435.2 423.0,435.6 423.4,435.4 423.8,433.6 424.2,432.8 424.6,435.5 425.0,434.1 425.4,435.3 425.8,436.1 426.2,436.0 426.6,434.0 427.0,435.8 427.4,436.7 427.8,435.0 428.2,435.2 428.6,436.1 429.0,434.5 429.5,433.8 429.9,434.0 430.3,434.7 430.7,433.8 431.1,436.8 431.5,435.2 431.9,436.7 432.3,436.3 432.7,433.7 433.1,435.2 433.5,433.6 433.9,435.8 434.3,435.2 434.7,434.6 435.1,435.1 435.5,433.5 435.9,434.6 436.3,434.7 436.7,434.4 437.2,435.2 437.6,433.9 438.0,435.7 438.4,434.0 438.8,435.7 439.2,435.6 439.6,436.0 440.0,434.2 440.4,437.5 440.8,434.0 441.2,434.0 441.6,432.7 442.0,435.4 442.4,433.2 442.8,434.2 443.2,431.7 443.6,432.7 444.0,430.4 444.4,430.3 444.9,427.7 445.3,425.2 445.7,424.1 446.1,420.3 446.5,418.2 446.9,417.6 447.3,412.2 447.7,412.9 448.1,410.2 448.5,408.9 448.9,410.2 449.2,411.2 449.3,410.6 449.7,413.6 450.1,417.6 450.5,420.5 450.9,422.2 451.3,424.0 451.7,425.3 452.2,427.0 452.6,430.1 453.0,431.2 453.4,431.8 453.8,434.0 454.2,432.8 454.6,432.4 455.0,433.2 455.4,435.6 455.8,431.8 456.2,434.9 456.6,435.1 457.0,434.5 457.4,437.1 457.8,435.3 458.2,434.3 458.6,433.0 459.0,434.6 459.4,433.4 459.9,434.1 460.3,434.7 460.7,433.7 461.1,434.7 461.5,436.7 461.9,436.6 462.3,435.2 462.7,432.8 463.1,436.5 463.5,435.7 463.9,433.9 464.3,434.0 464.7,435.7 465.1,433.3 465.5,434.8 465.9,432.5 466.3,433.1 466.7,433.9 467.1,432.6 467.6,434.9 468.0,436.0 468.4,433.6 468.8,436.0 469.2,435.0 469.6,436.3 470.0,435.8 470.4,435.3 470.8,435.3 471.2,433.8 471.6,434.3 472.0,434.2 472.4,436.5 472.8,435.7 473.2,433.5 473.6,436.2 474.0,435.7 474.4,434.6 474.8,435.6 475.3,435.5 475.7,433.5 476.1,433.2 476.5,434.3 476.9,432.9 477.3,433.8 477.7,433.0 478.1,432.0 478.5,430.5 478.9,430.9 479.3,430.0 479.7,427.7 480.1,424.4 480.5,424.2 480.9,420.9 481.3,419.7 481.7,419.5 482.1,415.9 482.5,416.1 483.0,415.5 483.4,416.4 483.8,421.1 484.2,422.2 484.6,422.0 485.0,427.0 485.4,428.1 485.8,431.4 486.2,431.3 486.6,431.6 487.0,432.3 487.4,432.2 487.8,432.3 488.2,432.9 488.6,433.9 489.0,435.2 489.4,434.0 489.8,434.9 490.2,434.9 490.7,434.1 491.1,435.3 491.5,433.5 491.9,434.9 492.3,433.7 492.7,435.3 493.1,434.4 493.5,434.6 493.9,434.7 494.3,433.6 494.7,436.0 495.1,435.1 495.5,435.4 495.9,435.5 496.3,436.2 496.7,435.3 497.1,435.6 497.5,433.6 497.9,433.5 498.4,433.4 498.8,434.9 499.2,436.0 499.6,434.8 500.0,433.0 500.4,433.5 500.8,432.9 501.2,432.6 501.6,431.4 502.0,428.9 502.4,430.8 502.8,432.2 503.2,430.7 503.6,427.7 504.0,429.2 504.4,426.6 504.8,429.9 505.2,427.9 505.6,425.8 505.9,427.9 506.1,426.1 506.5,428.0 506.9,427.1 507.3,426.0 507.7,428.7 508.1,426.2 508.5,428.8 508.9,427.2 509.3,426.3 509.7,425.3 510.1,429.0 510.5,428.9 510.9,426.1 511.3,428.3 511.7,425.6 512.1,424.7 512.5,423.7 512.9,422.6 513.4,423.4 513.8,421.6 514.2,418.8 514.6,421.9 515.0,419.1 515.4,416.4 515.8,415.7 516.2,414.0 516.6,414.0 517.0,414.0 517.4,412.9 517.8,411.9 518.1,410.6 518.2,412.0 518.6,410.7 519.0,412.8 519.4,409.6 519.8,411.9 520.2,412.0 520.6,411.4 521.1,414.7 521.5,414.1 521.9,414.2 522.3,415.5 522.7,418.6 523.1,417.2 523.5,420.4 523.9,420.7 524.3,420.6 524.7,422.7 525.1,424.1 525.5,423.4 525.9,423.4 526.3,425.7 526.7,425.4 527.1,422.9 527.5,423.6 527.9,423.7 528.3,424.3 528.8,423.4 529.2,426.4 529.6,427.2 530.0,428.3 530.4,430.3 530.8,428.9 531.2,430.2 531.6,431.4 532.0,430.6 532.4,431.0 532.8,433.4 533.2,433.4 533.6,435.0 534.0,432.8 534.4,434.1 534.8,432.2 535.2,433.3 535.6,432.7 536.0,436.6 536.5,436.1 536.9,435.6 537.3,437.3 537.7,436.9 538.1,435.2 538.5,433.9 538.9,433.6 539.3,435.2 539.7,434.6 540.1,434.4 540.5,435.0 540.9,433.2 541.3,436.9 541.7,434.6 542.1,434.9 542.5,436.2 542.9,434.6 543.3,437.4 543.7,437.2 544.2,436.4 544.6,435.4 545.0,435.1 545.4,433.3 545.8,436.9 546.2,435.3 546.6,434.6 547.0,434.9 547.4,436.2 547.8,437.2 548.2,434.2 548.6,434.8 549.0,433.5 549.4,435.5 549.8,434.2 550.2,436.1 550.6,433.4 551.0,432.1 551.4,431.3 551.9,431.8 552.3,427.9 552.7,429.3 553.1,427.9 553.2,427.2 553.5,427.4 553.9,430.1 554.3,431.4 554.7,430.5 555.1,432.0 555.5,434.6 555.9,432.7 556.3,433.8 556.7,433.4 557.1,435.7 557.5,435.4 557.9,435.8 558.3,435.7 558.7,434.6 559.1,434.9 559.6,434.9 560.0,436.4 560.4,435.4 560.8,435.0 561.2,436.0 561.6,436.7 562.0,434.7 562.4,434.6 562.8,435.9 563.2,435.6 563.6,434.6 564.0,435.8 564.4,435.5 564.8,436.8 565.2,435.0 565.6,436.7 566.0,436.8 566.4,435.4 566.9,437.6 567.3,437.5 567.7,435.1 568.1,438.6 568.5,435.2 568.9,435.0 569.3,436.2 569.7,437.5 570.1,437.1 570.5,436.7 570.9,438.7 571.3,436.8 571.7,437.5 572.1,438.9 572.5,435.8 572.9,432.6 573.3,435.1 573.7,434.6 574.1,435.8 574.6,436.0 575.0,434.4 575.4,434.5 575.8,435.3 576.2,435.2 576.6,432.1 577.0,436.7 577.4,435.5 577.8,435.6 578.2,436.2 578.6,435.4 579.0,436.2 579.4,437.2 579.8,437.1 580.2,436.5 580.6,435.7 581.0,435.1 581.4,437.7 581.8,437.1 582.3,436.5 582.7,434.6 583.1,436.4 583.5,435.5 583.9,439.0 584.3,437.7 584.7,436.6 585.1,436.9 585.5,439.9 585.9,438.9 586.3,435.8 586.7,437.0 587.1,435.7 587.5,435.1 587.9,436.6 588.3,438.7 588.7,437.3 589.1,435.8 589.5,434.9 590.0,435.6 590.4,436.8 590.8,434.9 591.2,434.9 591.6,439.5 592.0,437.6 592.4,438.7 592.8,436.6 593.2,437.5 593.6,434.6 594.0,436.0 594.4,437.5 594.8,437.3 595.2,435.5 595.6,437.6 596.0,435.7 596.4,434.7 596.8,436.2 597.2,437.3 597.7,437.1 598.1,435.0 598.5,437.6 598.9,437.6 599.3,436.7 599.7,433.8 600.1,437.9 600.5,437.7 600.9,437.2 601.3,434.6 601.7,435.1 602.1,437.7 602.5,437.6 602.9,437.5 603.3,436.3 603.7,437.1 604.1,435.9 604.5,436.1 604.9,435.3 605.4,436.2 605.8,435.2 606.2,436.7 606.6,436.4 607.0,435.2 607.4,438.1 607.8,435.0 608.2,436.3 608.6,436.7 609.0,436.5 609.4,432.4 609.8,435.5 610.2,436.3 610.6,436.9 611.0,432.9 611.4,435.0 611.8,436.8 612.2,436.3 612.6,438.0 613.1,436.2 613.5,438.8 613.9,437.3 614.3,435.4 614.7,436.2 615.1,436.5 615.5,437.0 615.9,437.9 616.3,436.5 616.7,437.7 617.1,434.5 617.5,432.5 617.9,436.1 618.3,436.6 618.7,435.7 619.1,435.4 619.5,437.2 619.9,438.2 620.3,436.2 620.8,435.8 621.2,435.7 621.6,439.2 622.0,437.5 622.4,438.2 622.8,439.1 623.2,438.6 623.6,436.4 624.0,438.8 624.4,438.7 624.8,438.4 625.2,439.2 625.6,436.8 626.0,437.1 626.4,436.5 626.8,437.5 627.2,435.7 627.6,437.5 628.1,435.7 628.5,436.4 628.9,436.2 629.3,436.6 629.7,436.3 630.1,435.6 630.5,435.6 630.9,433.2 631.3,436.7 631.7,435.2 632.1,436.2 632.5,435.9 632.9,438.4 633.3,436.4 633.7,438.1 634.1,438.2 634.5,438.5 634.9,437.8 635.3,436.7 635.8,434.2 636.2,436.8 636.6,436.4 637.0,435.5 637.4,435.6 637.8,434.8 638.2,434.2 638.6,436.1 639.0,436.7 639.4,433.8 639.8,435.8 640.2,434.4 640.6,434.3 641.0,432.7 641.4,434.0 641.8,433.3 642.2,433.4 642.6,431.6 643.0,434.1 643.5,432.9 643.9,432.2 644.3,433.8 644.7,431.2 645.1,433.4 645.5,433.0 645.9,429.4 646.3,429.7 646.7,427.2 647.1,425.9 647.5,423.3 647.9,424.0 648.3,422.2 648.7,421.6 649.1,419.6 649.5,418.5 649.9,416.0 650.3,414.4 650.7,413.2 651.2,410.0 651.6,409.3 652.0,407.5 652.4,406.9 652.8,405.3 653.2,405.9 653.6,405.4 654.0,402.5 654.4,402.9 654.5,401.4 654.8,399.5 655.2,402.0 655.6,404.2 656.0,403.4 656.4,403.7 656.8,407.0 657.2,407.0 657.6,411.2 658.0,410.8 658.4,413.2 658.9,414.3 659.3,417.0 659.7,417.8 660.1,418.5 660.5,420.0 660.9,420.7 661.3,424.5 661.7,423.0 662.1,424.9 662.5,425.3 662.9,424.7 663.3,428.7 663.7,424.5 664.1,428.7 664.5,425.4 664.9,427.0 665.3,428.4 665.7,422.8 666.1,423.4 666.6,425.8 667.0,424.1 667.4,423.6 667.8,424.4 668.0,423.1 668.2,424.3 668.6,426.5 669.0,424.9 669.4,426.6 669.8,428.8 670.2,430.9 670.6,429.2 671.0,430.5 671.4,430.4 671.8,431.1 672.2,431.9 672.6,431.3 673.0,431.4 673.4,431.2 673.8,433.0 674.3,434.1 674.7,435.5 675.1,433.5 675.5,433.7 675.9,434.5 676.3,434.8 676.7,434.4 677.1,434.7 677.5,437.3 677.9,435.8 678.3,435.9 678.7,434.3 679.1,436.4 679.5,435.6 679.9,437.4 680.3,434.7 680.7,436.1 681.1,436.8 681.6,437.8 682.0,434.6 682.4,437.9 682.8,436.4 683.2,436.2 683.6,436.1 684.0,436.4 684.4,435.7 684.8,433.7 685.2,436.8 685.6,436.7 686.0,435.3 686.4,436.7 686.8,439.3 687.2,436.8 687.6,435.0 688.0,437.1 688.4,435.1 688.8,436.0 689.3,435.9 689.7,436.5 690.1,438.4 690.5,437.6 690.9,435.9 691.3,435.9 691.7,436.8 692.1,435.7 692.5,436.7 692.9,436.0 693.3,436.3 693.7,436.9 694.1,435.1 694.5,436.7 694.9,436.3 695.3,435.4 695.7,435.7 696.1,436.4 696.5,436.9 697.0,437.1 697.4,436.8 697.8,436.0 698.2,438.0 698.6,436.8 699.0,435.9 699.4,436.7 699.8,436.2 700.2,436.1 700.6,436.8 701.0,439.6 701.4,438.1 701.8,438.1 702.2,436.4 702.6,437.4 703.0,438.7 703.4,436.9 703.8,437.2 704.2,437.6 704.7,436.8 705.1,438.5 705.5,436.8 705.9,437.1 706.3,436.0 706.7,439.5 707.1,436.7 707.5,436.5 707.9,438.4 708.3,436.3 708.7,436.8 709.1,435.5 709.5,436.2 709.9,435.5 710.3,436.7 710.7,436.0 711.1,435.9 711.5,436.6 711.9,436.7 712.4,435.8 712.8,437.3 713.2,436.6 713.6,435.9 714.0,434.6 714.4,436.3 714.8,434.0 715.2,436.0 715.6,435.9 716.0,434.8 716.4,434.3 716.8,434.8 717.2,437.2 717.6,433.7 718.0,433.7 718.4,435.0 718.8,434.1 719.2,434.9 719.6,433.1 720.1,433.1 720.5,437.7 720.9,433.8 721.3,433.6 721.7,434.0 722.1,434.9 722.5,432.6 722.9,433.0 723.3,431.8 723.7,431.7 724.1,430.4 724.5,428.4 724.9,428.6 725.3,426.6 725.7,429.3 726.1,425.9 726.5,426.5 726.9,427.2 727.3,424.2 727.8,424.5 728.2,422.3 728.6,422.5 728.8,421.5 729.0,420.2 729.4,422.1 729.8,419.8 730.2,418.8 730.6,419.6 731.0,420.1 731.4,417.4 731.8,419.5 732.2,418.3 732.6,418.4 733.0,415.0 733.4,416.1 733.8,412.0 734.2,412.7 734.6,412.8 735.0,412.2 735.5,410.4 735.9,410.1 736.3,409.2 736.7,409.3 737.1,409.7 737.5,410.6 737.9,410.6 738.3,411.3 738.7,411.9 739.1,409.9 739.5,411.5 739.9,413.2 740.3,413.2 740.7,415.8 741.1,415.8 741.5,415.8 741.9,415.9 742.3,417.7 742.8,416.0 743.2,416.0 743.6,416.4 744.0,416.0 744.4,415.9 744.8,413.8 745.2,413.7 745.6,411.4 746.0,410.5 746.4,411.0 746.8,407.8 747.2,410.1 747.6,410.4 748.0,408.4 748.4,407.5 748.8,408.4 749.2,407.2 749.6,408.5 750.0,410.4 750.5,409.4 750.9,410.3 751.3,409.9 751.7,410.4 752.1,411.5 752.5,412.2 752.9,414.9 753.3,414.2 753.7,416.8 754.1,419.2 754.5,419.1 754.9,420.5 755.3,420.7 755.7,423.0 756.1,424.5 756.5,425.9 756.9,426.3 757.3,425.8 757.7,427.8 758.2,428.8 758.6,431.0 759.0,428.2 759.4,431.8 759.8,430.1 760.2,433.3 760.6,433.2 761.0,433.9 761.4,433.9 761.8,433.6 762.2,432.9 762.6,434.4 763.0,434.9 763.4,434.4 763.8,435.0 764.2,433.7 764.6,435.5 765.0,434.1 765.4,433.5 765.9,433.9 766.3,433.4 766.7,435.2 767.1,437.0 767.5,436.6 767.9,437.1 768.3,437.1 768.7,434.3 769.1,436.2 769.5,437.5 769.9,438.7 770.3,434.9 770.7,434.9 771.1,437.2 771.5,436.1 771.9,435.5 772.3,437.5 772.7,435.8 773.1,433.2 773.6,435.7 774.0,435.9 774.4,436.0 774.8,436.8 775.2,436.6 775.6,436.5 776.0,435.9 776.4,434.9 776.8,436.5 777.2,437.7 777.6,437.7 778.0,439.1 778.4,436.6 778.8,434.8 779.2,437.9 779.6,437.2 780.0,435.0 780.4,434.4 780.8,435.9 781.3,436.6 781.7,435.0 782.1,435.8 782.5,435.7 782.9,436.0 783.3,435.6 783.7,437.1 784.1,436.2 784.5,435.7 784.9,433.2 785.3,437.8 785.7,435.6 786.1,436.8 786.5,436.0 786.9,437.6 787.3,435.6 787.7,437.1 788.1,437.0 788.5,438.4 789.0,436.0 789.4,436.1 789.8,436.2 790.2,438.5 790.6,433.9 791.0,435.8 791.4,435.4 791.8,436.5 792.2,436.5 792.6,437.1 793.0,437.7 793.4,437.5 793.8,437.1 794.2,438.2 794.6,435.9 795.0,437.6 795.4,437.0 795.8,437.1 796.2,437.5 796.7,437.5 797.1,436.5 797.5,437.4 797.9,434.1 798.3,437.4 798.7,436.8 799.1,437.5 799.5,436.0 799.9,437.9 800.3,438.4 800.7,438.4 801.1,436.9 801.5,437.9 801.9,437.9 802.3,438.7 802.7,437.9 803.1,436.9 803.5,436.8 804.0,436.5 804.4,436.6 804.8,435.8 805.2,437.0 805.6,435.6 806.0,435.8 806.4,437.0 806.8,436.2 807.2,436.2 807.6,433.5 808.0,436.4 808.4,435.3 808.8,434.9 809.2,435.6 809.6,436.3 810.0,435.0 810.4,438.3 810.8,435.9 811.2,437.4 811.7,437.7 812.1,435.5 812.5,436.3 812.9,435.7 813.3,438.5 813.7,437.5 814.1,436.6 814.5,439.0 814.9,438.4 815.3,435.9 815.7,437.8 816.1,437.2 816.5,439.4 816.9,438.3 817.3,436.2 817.7,436.7 818.1,435.3 818.5,436.8 818.9,436.5 819.4,436.8 819.8,436.0 820.2,434.5 820.6,435.1 821.0,437.7 821.4,437.4 821.8,436.2 822.2,436.1 822.6,436.3 823.0,436.3 823.4,434.9 823.8,437.2 824.2,435.5 824.6,436.0 825.0,433.2 825.4,436.2 825.8,437.8 826.2,434.1 826.6,438.3 827.1,436.7 827.5,434.6 827.9,433.1 828.3,435.9 828.7,434.5 829.1,434.8 829.5,434.5 829.9,434.0 830.3,435.4 830.7,434.4 831.1,436.8 831.5,433.8 831.9,434.9 832.3,434.5 832.7,437.1 833.1,433.4 833.5,433.6 833.9,435.2 834.3,434.6 834.8,436.4 835.2,435.9 835.6,434.5 836.0,434.4 836.4,431.9 836.8,432.4 837.2,433.0 837.6,433.4 838.0,431.3 838.4,430.9 838.8,430.1 839.2,431.0 839.6,428.7 840.0,427.1 840.4,426.1 840.8,425.6 841.0,424.4 841.2,424.4 841.6,423.0 842.0,425.4 842.5,426.8 842.9,427.1 843.3,428.1 843.7,428.0 844.1,430.0 844.5,427.8 844.9,425.6 845.3,425.5 845.7,426.8 846.1,427.2 846.5,425.9 846.9,425.5 847.3,423.7 847.7,421.4 848.1,421.5 848.5,419.9 848.9,420.7 849.3,419.8 849.7,421.0 850.2,420.4 850.6,417.6 851.0,420.2 851.4,419.8 851.8,416.8 852.2,417.4 852.6,418.7 853.0,417.0 853.4,417.8 853.8,417.6 854.2,418.9 854.6,417.9 855.0,417.7 855.4,418.9 855.8,419.6 856.2,419.5 856.6,418.4 857.0,418.9 857.5,419.6 857.9,419.3 858.3,420.8 858.7,421.3 859.1,421.6 859.5,421.8 859.9,422.9 860.3,424.2 860.7,424.1 861.1,421.8 861.5,423.3 861.9,422.4 862.3,423.3 862.6,423.5 862.7,423.4 863.1,423.4 863.5,422.9 863.9,426.0 864.3,427.9 864.7,426.7 865.2,429.0 865.6,428.7 866.0,429.9 866.4,430.0 866.8,430.5 867.2,430.9 867.6,428.9 868.0,431.9 868.4,431.6 868.8,429.8 869.2,433.6 869.6,434.0 870.0,434.8 870.4,435.4 870.8,435.1 871.2,434.1 871.6,434.1 872.0,434.7 872.4,437.3 872.9,436.7 873.3,434.4 873.7,434.8 874.1,435.1 874.5,435.7 874.9,434.8 875.3,434.5 875.7,437.4 876.1,436.7 876.5,433.4 876.9,432.7 877.3,434.2 877.7,436.3 878.1,436.8 878.5,436.0 878.9,435.1 879.3,436.1 879.7,435.7 880.1,435.4 880.6,435.4 881.0,436.0 881.4,435.5 881.8,434.8 882.2,435.7 882.6,433.9 883.0,436.8 883.4,436.6 883.8,434.3 884.2,435.8 884.6,436.9 885.0,433.0 885.4,434.9 885.8,437.4 886.2,433.6 886.6,435.4 887.0,434.3 887.4,436.4 887.8,433.8 888.3,434.6 888.7,435.1 889.1,435.6 889.5,435.8 889.9,436.8 890.3,437.4 890.7,437.1 891.1,437.6 891.5,435.7 891.9,435.6 892.3,439.5 892.7,438.4 893.1,436.7 893.5,436.7 893.9,437.6 894.3,436.1 894.7,438.9 895.1,436.6 895.5,437.0 896.0,439.1 896.4,434.4 896.8,437.2 897.2,435.1 897.6,435.8 898.0,435.9 898.4,435.9 898.8,436.5 899.2,435.4 899.6,436.3 900.0,435.3 900.4,435.9 900.8,434.5 901.2,436.1 901.6,433.8 902.0,436.0 902.4,435.2 902.8,435.2 903.2,437.0 903.7,435.8 904.1,434.2 904.5,436.5 904.9,433.0 905.3,436.6 905.7,436.1 906.1,434.4 906.5,436.3 906.9,436.2 907.3,438.9 907.7,436.5 908.1,439.4 908.5,438.4 908.9,435.7 909.3,435.2 909.7,437.2 910.1,435.6 910.5,435.8 910.9,435.4 911.4,433.9 911.8,435.0 912.2,434.5 912.6,433.8 913.0,435.4 913.4,438.2 913.8,437.6 914.2,435.3 914.6,435.3 915.0,435.8 915.4,436.4 915.8,435.4 916.2,434.1 916.6,434.4 917.0,436.0 917.4,437.4 917.8,433.9 918.2,432.9 918.7,435.7 919.1,434.4 919.5,434.9 919.9,435.9 920.3,434.2 920.7,433.1 921.1,432.3 921.5,434.1 921.9,433.1 922.3,434.9 922.7,432.8 923.1,433.6 923.5,432.5 923.9,433.9 924.3,434.0 924.7,435.1 925.1,436.3 925.5,434.6 925.9,433.4 926.4,436.1 926.8,434.7 927.2,435.0 927.6,434.3 928.0,435.2 928.4,434.3 928.8,433.4 929.2,433.1 929.6,431.5 930.0,431.0 930.4,431.2 930.8,431.1 931.2,430.0 931.6,429.9 932.0,429.4 932.4,428.6 932.8,427.0 933.2,430.0 933.6,429.2 934.1,427.2 934.5,428.8 934.9,428.3 935.3,427.2 935.7,424.7 936.1,425.8 936.5,426.2 936.9,429.1 937.3,426.8 937.7,428.0 938.1,427.0 938.5,427.8 938.9,429.0 939.3,426.8 939.7,426.8 940.1,430.9 940.5,430.6 940.9,429.9 941.3,432.2 941.8,431.7 942.2,429.0 942.6,431.8 943.0,433.6 943.4,431.7 943.8,431.9 944.2,433.1 944.6,431.1 945.0,430.2 945.4,430.7 945.8,430.4 946.2,432.8 946.6,430.9 947.0,433.7 947.4,430.7 947.8,432.4 948.2,430.4 948.6,432.1 949.0,433.5 949.5,433.9 949.9,434.3 950.3,433.0 950.7,432.8 951.1,433.1 951.5,432.9"/></defs>
<use href="#pb" stroke="#163c75" stroke-width="3.0"/>
<use href="#pb" stroke="#2a5fa5" stroke-width="1.2"/>
<use href="#pr" stroke="#9a0f1e" stroke-width="3.2"/>
<use href="#pr" stroke="#e0061f" stroke-width="1.6"/>
</g>
<!-- plot frame -->
<rect x="73.6" y="91.2" width="878.4" height="351" fill="none" stroke="#111" stroke-width="1.8"/>
<!-- legend -->
<line x1="401" y1="49" x2="440.6" y2="49" stroke="#0e2c57" stroke-width="2.4" stroke-linecap="round"/>
<text x="445.2" y="55.3" font-size="19" textLength="36.6" lengthAdjust="spacingAndGlyphs">ZTO</text>
<line x1="501" y1="49" x2="540" y2="49" stroke="#740d14" stroke-width="2.4" stroke-linecap="round"/>
<text x="543.8" y="55.3" font-size="19" textLength="64.5" lengthAdjust="spacingAndGlyphs">ZTO/La</text>
<!-- peak labels -->
<text x="329" y="370.3" font-size="16" text-anchor="middle">T</text>
<text x="347.3" y="122.8" font-size="16" text-anchor="middle">A</text>
<text x="377.3" y="422.0" font-size="16" text-anchor="middle">R</text>
<text x="448.8" y="168.3" font-size="16" text-anchor="middle">T</text>
<text x="483.5" y="219.8" font-size="16" text-anchor="middle">T</text>
<text x="504.6" y="405.8" font-size="16" text-anchor="middle">A</text>
<text x="518.6" y="364.3" font-size="16" text-anchor="middle">A</text>
<text x="530.4" y="408.8" font-size="16" text-anchor="middle">A</text>
<text x="552.8" y="364.8" font-size="16" text-anchor="middle">T</text>
<text x="567" y="424.3" font-size="16" text-anchor="middle">R</text>
<text x="651.6" y="357.8" font-size="16" text-anchor="middle">A</text>
<text x="668.4" y="354.8" font-size="16" text-anchor="middle">T</text>
<text x="728.6" y="351.8" font-size="16" text-anchor="middle">T</text>
<text x="737.6" y="383.3" font-size="16" text-anchor="middle">R</text>
<text x="753" y="383.3" font-size="16" text-anchor="middle">A</text>
<text x="774.4" y="403.8" font-size="16" text-anchor="middle">T</text>
<text x="840" y="363.8" font-size="16" text-anchor="middle">T</text>
<text x="852.4" y="392.1" font-size="14" text-anchor="middle">A</text>
<text x="863" y="361.8" font-size="16" text-anchor="middle">T</text>
<text x="936" y="408.3" font-size="16" text-anchor="middle">A</text>
<!-- x ticks -->
<text x="73.8" y="476" font-size="18" text-anchor="middle">5</text>
<text x="208.9" y="476" font-size="18" text-anchor="middle">15</text>
<text x="344.0" y="476" font-size="18" text-anchor="middle">25</text>
<text x="479.1" y="476" font-size="18" text-anchor="middle">35</text>
<text x="614.2" y="476" font-size="18" text-anchor="middle">45</text>
<text x="749.3" y="476" font-size="18" text-anchor="middle">55</text>
<text x="884.4" y="476" font-size="18" text-anchor="middle">65</text>
<!-- x title -->
<text x="430" y="507.2" font-size="18" textLength="164" lengthAdjust="spacingAndGlyphs">2θ [Cu Kα]/degree</text>
<!-- y title -->
<g transform="translate(63.8,332.6) rotate(-90)">
<text x="0" y="0" font-size="16.5" textLength="79" lengthAdjust="spacingAndGlyphs" style="font-weight:normal" stroke="#000" stroke-width="0.5">Intensity</text>
<text x="85.2" y="0" font-size="16.5" textLength="45" lengthAdjust="spacingAndGlyphs">(a.u.)</text>
</g>
</svg>
</body></html>
